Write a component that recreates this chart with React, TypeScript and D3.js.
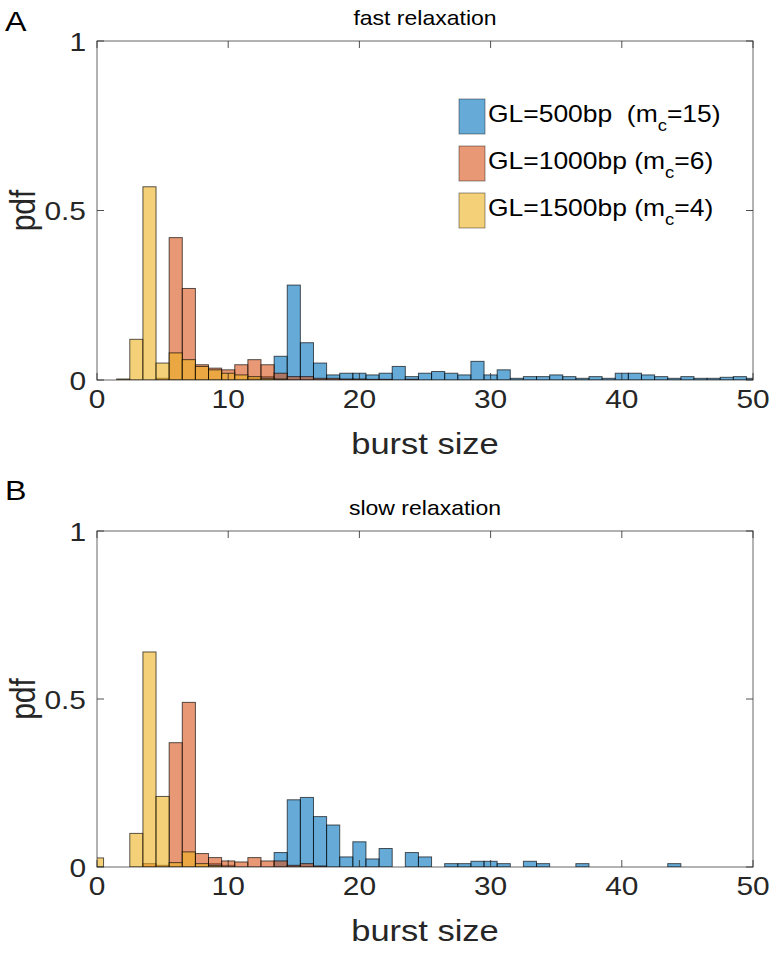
import React from "react";
import * as d3 from "d3";

// bin centers (bin width 1)
const binCenters = [0,1,2,3,4,5,6,7,8,9,10,11,12,13,14,15,16,17,18,19,20,21,22,23,24,25,26,27,28,29,30,31,32,33,34,35,36,37,38,39,40,41,42,43,44,45,46,47,48,49,50];

// Panel A: fast relaxation
const fastGL500 = [0,0,0,0,0,0,0,0,0,0,0,0,0.005,0.01,0.07,0.28,0.11,0.05,0.015,0.02,0.02,0.015,0.02,0.04,0.01,0.02,0.025,0.02,0.015,0.055,0.015,0.03,0.005,0.01,0.01,0.015,0.01,0.005,0.01,0.005,0.02,0.02,0.015,0.01,0.005,0.01,0.005,0.005,0.008,0.01,0.005];
const fastGL1000 = [0,0,0,0,0,0.005,0.42,0.27,0.045,0.035,0.03,0.045,0.06,0.045,0.02,0.01,0.01,0.005,0.005,0.003,0.003,0.002,0.002,0,0.002,0,0,0,0,0,0,0,0,0,0,0,0,0,0,0,0,0,0,0,0,0,0,0,0,0,0];
const fastGL1500 = [0,0,0.003,0.12,0.57,0.05,0.08,0.06,0.04,0.03,0.02,0.015,0.01,0.005,0.003,0,0,0,0,0,0,0,0,0,0,0,0,0,0,0,0,0,0,0,0,0,0,0,0,0,0,0,0,0,0,0,0,0,0,0,0];

// Panel B: slow relaxation
const slowGL500 = [0,0,0,0,0,0,0,0,0,0.01,0.005,0,0,0,0.043,0.2,0.207,0.15,0.125,0.03,0.075,0.024,0.055,0,0.043,0.03,0,0.01,0.01,0.017,0.017,0.01,0,0.017,0.01,0,0,0.01,0,0,0,0,0,0,0.01,0,0,0,0,0,0];
const slowGL1000 = [0,0,0,0,0.01,0.005,0.37,0.49,0.04,0.028,0.018,0.015,0.028,0.018,0.018,0.005,0.01,0.003,0,0,0,0,0,0,0,0,0,0,0,0,0,0,0,0,0,0,0,0,0,0,0,0,0,0,0,0,0,0,0,0,0];
const slowGL1500 = [0.027,0,0,0.1,0.64,0.21,0.013,0.045,0.01,0.005,0,0,0,0,0,0,0,0,0,0,0,0,0,0,0,0,0,0,0,0,0,0,0,0,0,0,0,0,0,0,0,0,0,0,0,0,0,0,0,0,0];

const xTicks = [0, 10, 20, 30, 40, 50];
const yTicks = [0, 0.5, 1];
const yTickLabels = ["0", "0.5", "1"];

const seriesColors = ["#0072BD", "#D95319", "#EDB120"];
const legendMain = ["GL=500bp  (m", "GL=1000bp (m", "GL=1500bp (m"];
const legendTail = ["=15)", "=6)", "=4)"];

const W = 774;
const H = 960;
const left = 97;
const right = 753;
const FONT = "'Liberation Sans', Arial, Helvetica, sans-serif";
const AX = "#262626";
const SX = 1.15; // horizontal stretch of the original figure's text

function SText(props: { x: number; y: number; size: number; anchor?: string; rotate?: number; fill?: string; children: React.ReactNode }) {
  const { x, y, size, anchor = "start", rotate = 0, fill = AX, children } = props;
  return (
    <text
      transform={`translate(${x},${y}) scale(${SX},1)${rotate ? ` rotate(${rotate})` : ""}`}
      fontSize={size}
      fontFamily={FONT}
      fill={fill}
      textAnchor={anchor}
      style={{ whiteSpace: "pre" }}
    >
      {children}
    </text>
  );
}

type PanelProps = {
  top: number;
  bottom: number;
  title: string;
  letter: string;
  letterY: number;
  series: number[][];
  legend: boolean;
};

function Panel({ top, bottom, title, letter, letterY, series, legend }: PanelProps) {
  const x = d3.scaleLinear().domain([0, 50]).range([left, right]);
  const y = d3.scaleLinear().domain([0, 1]).range([bottom, top]);
  const tickLen = 7;
  const clip = `clip-${letter}`;
  return (
    <g>
      <defs>
        <clipPath id={clip}>
          <rect x={left} y={top} width={right - left} height={bottom - top} />
        </clipPath>
      </defs>
      <SText x={5} y={letterY} size={28} fill="#000">{letter}</SText>
      <SText x={(left + right) / 2} y={top - 16} size={20} anchor="middle" fill="#000">{title}</SText>
      <g clipPath={`url(#${clip})`}>
        {series.map((vals, si) => (
          <g key={si}>
            {binCenters.map((c, i) =>
              vals[i] > 0 ? (
                <rect
                  key={i}
                  x={x(c - 0.5)}
                  y={y(vals[i])}
                  width={x(c + 0.5) - x(c - 0.5)}
                  height={y(0) - y(vals[i])}
                  fill={seriesColors[si]}
                  fillOpacity={0.6}
                  stroke="#000"
                  strokeOpacity={0.65}
                  strokeWidth={1}
                />
              ) : null
            )}
          </g>
        ))}
      </g>
      <rect x={left} y={top} width={right - left} height={bottom - top} fill="none" stroke={AX} strokeOpacity={0.7} strokeWidth={1} />
      {xTicks.map((t) => (
        <g key={`x${t}`}>
          <line x1={x(t)} x2={x(t)} y1={bottom} y2={bottom - tickLen} stroke={AX} strokeOpacity={0.8} />
          <line x1={x(t)} x2={x(t)} y1={top} y2={top + tickLen} stroke={AX} strokeOpacity={0.8} />
          <SText x={x(t)} y={bottom + 28} size={26} anchor="middle">{t}</SText>
        </g>
      ))}
      {yTicks.map((t, i) => (
        <g key={`y${t}`}>
          <line x1={left} x2={left + tickLen} y1={y(t)} y2={y(t)} stroke={AX} strokeOpacity={0.8} />
          <line x1={right} x2={right - tickLen} y1={y(t)} y2={y(t)} stroke={AX} strokeOpacity={0.8} />
          <SText x={left - 11} y={y(t) + 9.5} size={26} anchor="end">{yTickLabels[i]}</SText>
        </g>
      ))}
      <SText x={(left + right) / 2} y={bottom + 74} size={30} anchor="middle">burst size</SText>
      <SText x={35} y={(top + bottom) / 2} size={30} anchor="middle" rotate={-90}>pdf</SText>
      {legend && (
        <g>
          {legendMain.map((lab, i) => {
            const cy = 116 + i * 47;
            return (
              <g key={lab}>
                <rect x={459} y={cy - 17} width={26} height={35} fill={seriesColors[i]} fillOpacity={0.6} stroke="#000" strokeOpacity={0.5} strokeWidth={0.8} />
                <SText x={488} y={cy + 6} size={23} fill="#000">
                  {lab}
                  <tspan fontSize={16} dy={9}>c</tspan>
                  <tspan dy={-9}>{legendTail[i]}</tspan>
                </SText>
              </g>
            );
          })}
        </g>
      )}
    </g>
  );
}

export default function App() {
  return (
    <svg width={W} height={H} style={{ position: "absolute", left: 0, top: 0, background: "#fff" }}>
      <rect width={W} height={H} fill="#fff" />
      <Panel top={41} bottom={380} title="fast relaxation" letter="A" letterY={31} series={[fastGL500, fastGL1000, fastGL1500]} legend={true} />
      <Panel top={531} bottom={867} title="slow relaxation" letter="B" letterY={500} series={[slowGL500, slowGL1000, slowGL1500]} legend={false} />
    </svg>
  );
}
